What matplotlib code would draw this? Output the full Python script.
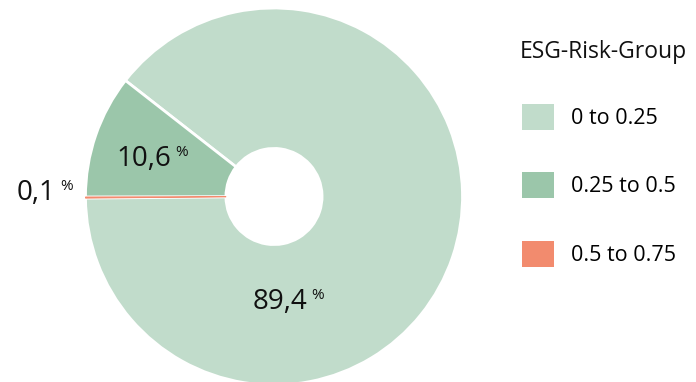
import matplotlib.pyplot as plt
from matplotlib.patches import Patch

plt.rcParams['font.family'] = ['Open Sans', 'DejaVu Sans']

groups = ['0 to 0.25', '0.25 to 0.5', '0.5 to 0.75']
shares = [89.4, 10.6, 0.1]
labels = ['89,4', '10,6', '0,1']
colors = ['#c1dccb', '#9bc6aa', '#f28b6e']
legend_title = 'ESG-Risk-Group'

# label spots in data units (pie radius = 1)
label_pos = [(0.03, -0.56), (-0.69, 0.20), (-1.26, 0.02)]


def draw(ax):
    wedges, _ = ax.pie(shares, colors=colors, startangle=180.5,
                       counterclock=True, radius=1.0,
                       wedgeprops=dict(width=0.745, edgecolor='white',
                                       linewidth=2))
    # the tiny slice sits on top so the white edges do not hide it
    wedges[2].set_edgecolor(colors[2])
    wedges[2].set_linewidth(0.6)
    wedges[2].set_zorder(5)
    ax.set_xlim(-1, 1)
    ax.set_ylim(-1, 1)
    ax.set_aspect('equal')

    for lab, (x, y) in zip(labels, label_pos):
        t = ax.text(x, y, lab, fontsize=20, ha='center', va='center',
                    color='#111111', clip_on=False)
        ax.annotate('%', xy=(1, 1), xycoords=t, xytext=(3, 0),
                    textcoords='offset points', fontsize=11,
                    ha='left', va='top', color='#111111')


fig = plt.figure(figsize=(6.96, 3.82), dpi=100)
W, H = 696, 382
cx, cy, r = 274, 196.5, 188.5
ax = fig.add_axes([(cx - r) / W, (H - cy - r) / H, 2 * r / W, 2 * r / H])
draw(ax)

# title kept apart so its gap does not follow the row spacing
fig.text(520 / W, 1 - 52 / H, legend_title, fontsize=16.5,
         ha='left', va='center', color='#111111')

handles = [Patch(facecolor=c, edgecolor='none') for c in colors]
leg = fig.legend(handles, groups, loc='upper left',
                 bbox_to_anchor=(513 / W, 1 - 95 / H), frameon=False,
                 fontsize=15.5, handlelength=1.5, handleheight=1.5,
                 handletextpad=0.8, labelspacing=1.96, borderaxespad=0)

fig.savefig('out.png', dpi=100)
